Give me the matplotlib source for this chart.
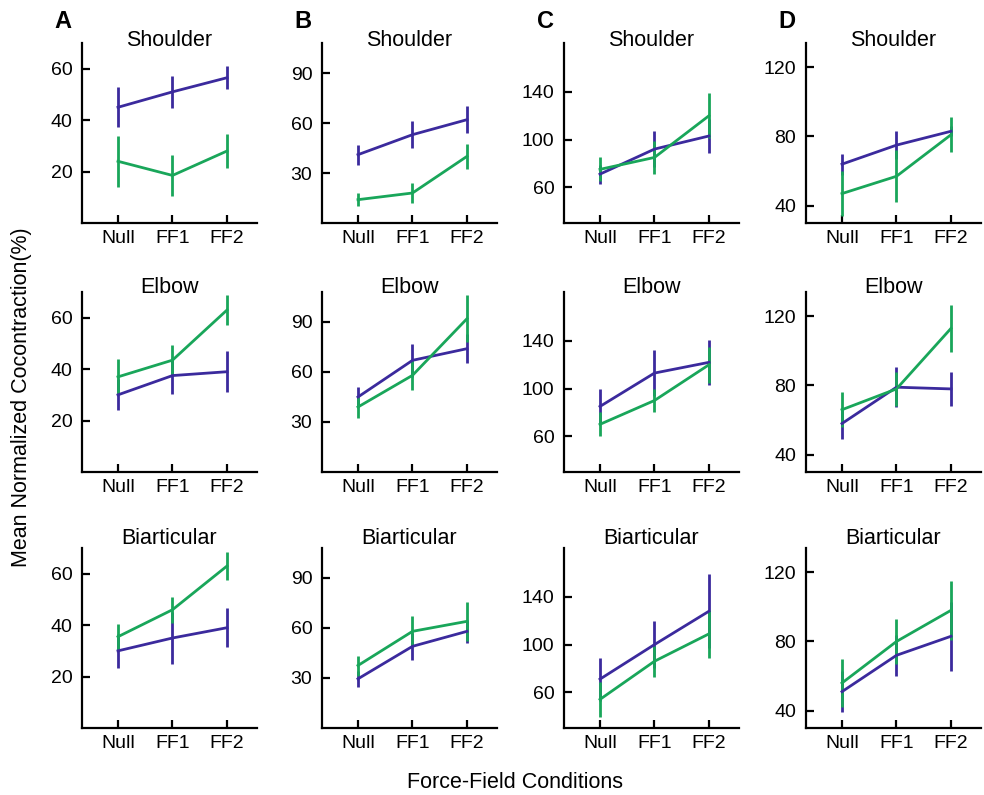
import matplotlib
matplotlib.use('Agg')
import matplotlib.pyplot as plt

plt.rcParams['font.family'] = ['Liberation Sans', 'DejaVu Sans']

conditions = ['Null', 'FF1', 'FF2']
muscles = ['Shoulder', 'Elbow', 'Biarticular']
panel_letters = ['A', 'B', 'C', 'D']

# rows = Shoulder, Elbow, Biarticular ; columns = Null, FF1, FF2
a_blue = [[45, 51, 56.5], [30, 37.5, 39], [30, 35, 39]]
a_blue_err = [[7.7, 6.3, 4.5], [6, 7, 8], [6.5, 10, 7.5]]
a_green = [[24, 18.5, 28], [37, 43.5, 63], [35.5, 46, 63]]
a_green_err = [[10, 8, 6.5], [7, 6, 6], [5, 5, 5.6]]

b_blue = [[41, 53, 62], [45, 67, 74], [29.5, 49, 58]]
b_blue_err = [[6, 8, 8], [6, 10, 8.5], [5, 8, 7]]
b_green = [[14, 18, 40], [39, 58, 92], [37.5, 58, 64]]
b_green_err = [[4, 6, 7.5], [6.5, 9, 14], [6, 9, 11.5]]

c_blue = [[71, 92, 103], [85, 113, 122], [71, 100, 128]]
c_blue_err = [[8, 15, 14], [15, 19, 19], [18, 20, 31]]
c_green = [[75, 85, 120], [70, 90, 120], [54, 86, 109]]
c_green_err = [[10, 13.5, 19], [10, 10, 15], [15, 13, 20]]

d_blue = [[64, 75, 83], [58, 79, 78], [51, 72, 83]]
d_blue_err = [[6, 8, 3], [9, 11.5, 10], [12, 12, 20]]
d_green = [[47, 57, 81], [66, 78, 113], [56, 80, 98]]
d_green_err = [[13, 15, 10], [10, 10, 13.5], [14, 13, 17]]

y_limits = [(0, 70), (0, 108), (30, 181), (30, 134)]
y_ticks = [[20, 40, 60], [30, 60, 90], [60, 100, 140], [40, 80, 120]]

groups = [
    (a_blue, a_blue_err, a_green, a_green_err),
    (b_blue, b_blue_err, b_green, b_green_err),
    (c_blue, c_blue_err, c_green, c_green_err),
    (d_blue, d_blue_err, d_green, d_green_err),
]

BLUE = '#3b2a9d'
GREEN = '#19a65a'

W, H = 984, 795
fig = plt.figure(figsize=(W / 100, H / 100), dpi=100)

col_left = [82, 322, 564, 806]
row_bottom = [223, 472, 728]
title_pad = [-2, -0.5, 3]
ax_w, ax_h = 175, 180

x = list(range(len(conditions)))

for c, (bm, be, gm, ge) in enumerate(groups):
    for r, muscle in enumerate(muscles):
        ax = fig.add_axes([col_left[c] / W, 1 - row_bottom[r] / H, ax_w / W, ax_h / H])
        ax.errorbar(x, bm[r], yerr=be[r], color=BLUE, lw=2, elinewidth=2, capsize=0)
        ax.errorbar(x, gm[r], yerr=ge[r], color=GREEN, lw=2, elinewidth=2, capsize=0)
        ax.set_xlim(-0.66, 2.55)
        ax.set_ylim(*y_limits[c])
        ax.set_xticks(x)
        ax.set_xticklabels(conditions)
        ax.set_yticks(y_ticks[c])
        ax.spines['top'].set_visible(False)
        ax.spines['right'].set_visible(False)
        for s in ['left', 'bottom']:
            ax.spines[s].set_linewidth(1.6)
        ax.tick_params(direction='in', length=6, width=1.6, labelsize=14)
        ax.tick_params(axis='y', pad=7)
        ax.tick_params(axis='x', pad=5)
        ax.set_title(muscle, fontsize=15.5, y=1.0, pad=title_pad[r])
    fig.text((col_left[c] - 19) / W, 1 - 22 / H, panel_letters[c],
             fontsize=17, fontweight='bold', ha='center', va='center')

fig.text(22 / W, 0.5, 'Mean Normalized Cocontraction(%)', rotation=90,
         fontsize=15.5, ha='center', va='center')
fig.text(515 / W, 1 - 783 / H, 'Force-Field Conditions', fontsize=15.5,
         ha='center', va='center')

fig.savefig('out.png', dpi=100)
